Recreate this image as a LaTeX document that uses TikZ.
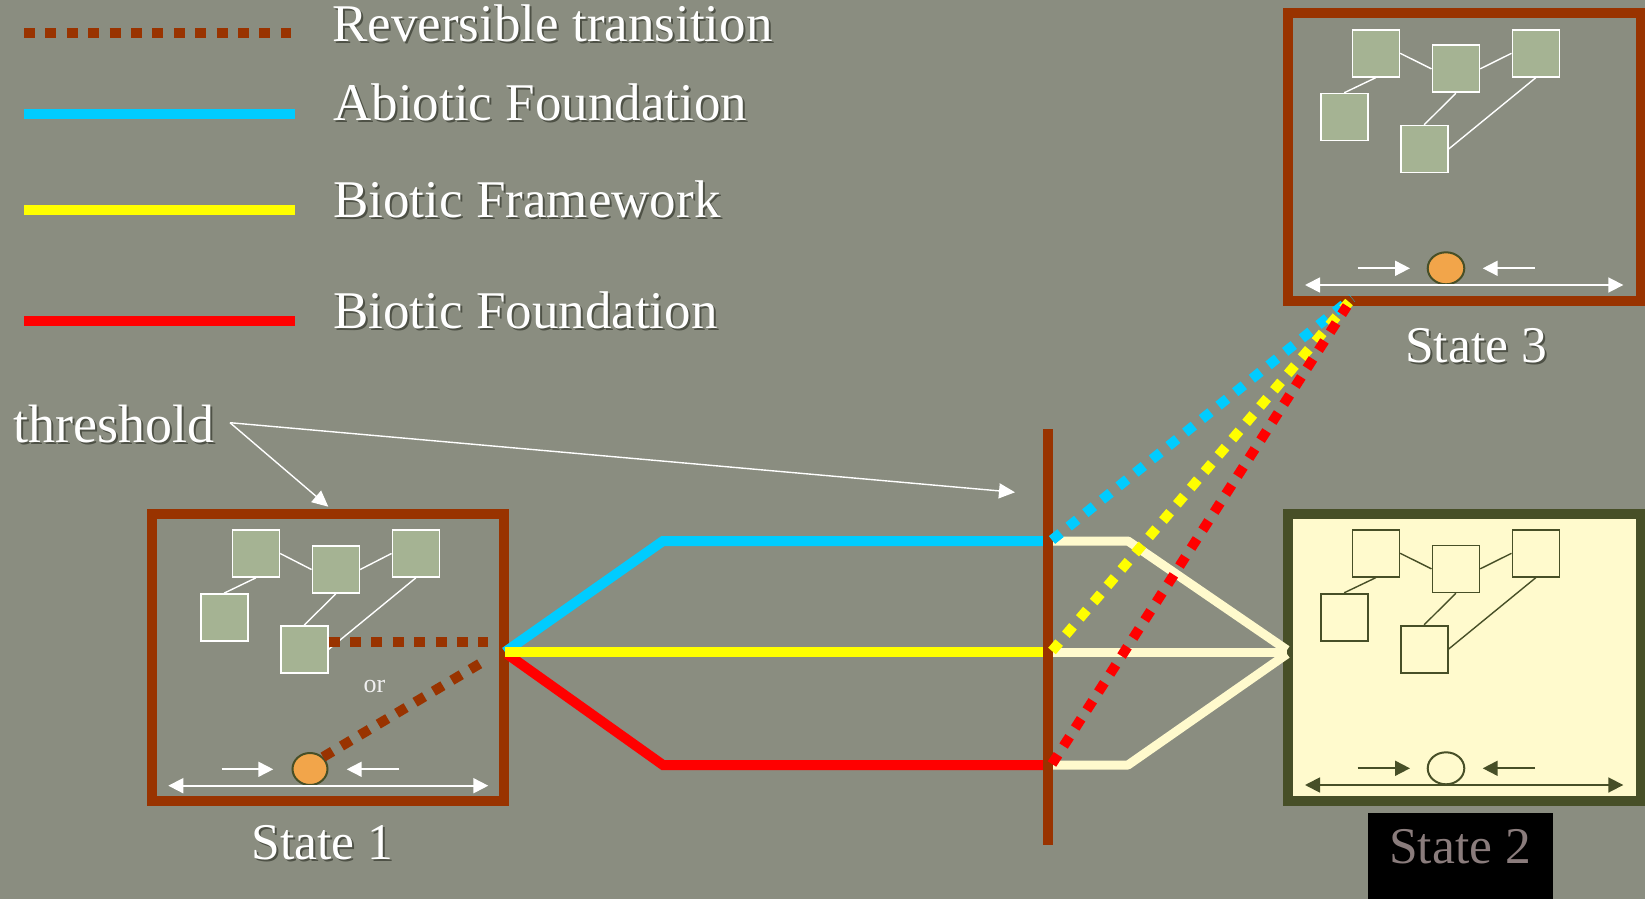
\documentclass[tikz,border=0pt]{standalone}
\usepackage{fontspec}
\setmainfont{Liberation Serif}
\usetikzlibrary{arrows.meta,shapes.geometric}
\definecolor{bg}{HTML}{8A8D80}
\definecolor{brn}{HTML}{993300}
\definecolor{aqua}{HTML}{00CCFF}
\definecolor{yel}{HTML}{FFFF00}
\definecolor{rd}{HTML}{FF0000}
\definecolor{cream}{HTML}{FFFACD}
\definecolor{sage}{HTML}{A5B393}
\definecolor{olive}{HTML}{474F27}
\definecolor{orng}{HTML}{F2A54A}
\definecolor{shd}{HTML}{4E5146}
\definecolor{mauve}{HTML}{8A7C7C}
\newcommand\shtext[1]{\leavevmode\rlap{\kern1pt\raisebox{-1pt}{\textcolor{shd}{#1}}}#1}
\tikzset{
  sq/.style={rectangle, draw=white, line width=0.85pt, fill=sage, minimum size=23.5pt, inner sep=0pt},
  sqtwo/.style={sq, draw=olive, fill=cream},
  link/.style={white, line width=0.7pt},
  linktwo/.style={olive, line width=0.7pt},
  statebox/.style={rectangle, line width=5pt, minimum width=176.25pt, minimum height=143.8pt, inner sep=0pt},
  flow/.style={line width=5pt},
  dots/.style={line width=5pt, dash pattern=on 5.5pt off 5.2pt},
  cr/.style={cream, line width=4.5pt, line join=bevel},
  arr/.style={-{Triangle[length=7.5pt,width=7.5pt]}, line width=0.9pt},
  darr/.style={{Triangle[length=7.5pt,width=7.5pt]}-{Triangle[length=7.5pt,width=7.5pt]}, line width=0.9pt},
  tharr/.style={-{Triangle[length=8pt,width=7.5pt]}, white, line width=0.7pt},
  ball/.style={ellipse, draw=olive, line width=1pt, fill=orng, inner sep=0pt},
  legtext/.style={text=white, inner sep=0pt, anchor=base west, font=\fontsize{26.5pt}{30pt}\selectfont},
  statetext/.style={text=white, inner sep=0pt, anchor=base, font=\fontsize{25.75pt}{30pt}\selectfont}
}
\begin{document}
\begin{tikzpicture}[x=0.5pt, y=-0.5pt]
\useasboundingbox (0,0) rectangle (1645,899);
\fill[bg] (0,0) rectangle (1645,899);

% ---------- legend ----------
\coordinate (lg1a) at (24,33.3);  \coordinate (lg1b) at (291,33.3);
\coordinate (lg2a) at (24,113.7); \coordinate (lg2b) at (295,113.7);
\coordinate (lg3a) at (24,209.7); \coordinate (lg3b) at (295,209.7);
\coordinate (lg4a) at (24,321.3); \coordinate (lg4b) at (295,321.3);
\draw[brn, dots] (lg1a) -- (lg1b);
\draw[aqua, flow] (lg2a) -- (lg2b);
\draw[yel, flow] (lg3a) -- (lg3b);
\draw[rd, flow] (lg4a) -- (lg4b);
\node[legtext] (t1) at (332,41.7) {\shtext{Reversible transition}};
\node[legtext] (t2) at (333,121) {\shtext{Abiotic Foundation}};
\node[legtext] (t3) at (333,217.3) {\shtext{Biotic Framework}};
\node[legtext] (t4) at (333,328.3) {\shtext{Biotic Foundation}};

% ---------- state boxes ----------
\node[statebox, draw=brn] (s1) at (327.75,657.5) {};
\node[statebox, draw=brn] (s3) at (1464.25,157) {};
\node[statebox, draw=olive, fill=cream] (s2) at (1464.25,657.5) {};

% ---------- State 1 contents ----------
\node[sq] (a1) at (255.85,553.5) {};
\node[sq] (b1) at (335.85,569.5) {};
\node[sq] (c1) at (415.85,553.5) {};
\node[sq] (d1) at (224.15,617.5) {};
\node[sq] (e1) at (304.15,649.5) {};
\draw[link] (a1.east) -- (b1.west);
\draw[link] (b1.east) -- (c1.west);
\draw[link] (a1.south) -- (d1.north);
\draw[link] (b1.south) -- (e1.north);
\draw[link] (c1.south) -- (e1.east);
\node[ball, minimum width=17.5pt, minimum height=16pt] (o1) at (310,769) {};
\coordinate (h1a) at (168.3,785.7); \coordinate (h1b) at (488.3,785.7);
\draw[darr, white] (h1a) -- (h1b);
\coordinate (p1a) at (221.7,769.3); \coordinate (p1b) at (273.3,769.3);
\coordinate (q1a) at (399.3,769.3); \coordinate (q1b) at (346.7,769.3);
\draw[arr, white] (p1a) -- (p1b);
\draw[arr, white] (q1a) -- (q1b);
\coordinate (rv1) at (488.3,641.7);
\coordinate (rv2) at (486,660);
\draw[brn, dots] (e1.east |- rv1) -- (rv1);
\draw[brn, dots] (o1.north east) -- (rv2);
\node[text=white!94!black, inner sep=0pt, anchor=base west, font=\fontsize{13pt}{15pt}\selectfont] (or) at (363.3,692.7) {or};

% ---------- State 3 contents ----------
\node[sq] (a3) at (1375.85,53.3) {};
\node[sq] (b3) at (1455.85,68.85) {};
\node[sq] (c3) at (1535.85,53.3) {};
\node[sq] (d3) at (1344.15,117.15) {};
\node[sq] (e3) at (1424.15,149.15) {};
\draw[link] (a3.east) -- (b3.west);
\draw[link] (b3.east) -- (c3.west);
\draw[link] (a3.south) -- (d3.north);
\draw[link] (b3.south) -- (e3.north);
\draw[link] (c3.south) -- (e3.east);
\node[ball, minimum width=18.3pt, minimum height=16pt] (o3) at (1446,268.3) {};
\coordinate (h3a) at (1305,285); \coordinate (h3b) at (1623.3,285);
\draw[darr, white] (h3a) -- (h3b);
\coordinate (p3a) at (1357.7,268.3); \coordinate (p3b) at (1410,268.3);
\coordinate (q3a) at (1535,268.3); \coordinate (q3b) at (1482.7,268.3);
\draw[arr, white] (p3a) -- (p3b);
\draw[arr, white] (q3a) -- (q3b);

% ---------- State 2 contents ----------
\node[sqtwo] (a2) at (1375.85,553.3) {};
\node[sqtwo] (b2) at (1455.85,568.85) {};
\node[sqtwo] (c2) at (1535.85,553.3) {};
\node[sqtwo] (d2) at (1344.15,617.15) {};
\node[sqtwo] (e2) at (1424.15,649.15) {};
\draw[linktwo] (a2.east) -- (b2.west);
\draw[linktwo] (b2.east) -- (c2.west);
\draw[linktwo] (a2.south) -- (d2.north);
\draw[linktwo] (b2.south) -- (e2.north);
\draw[linktwo] (c2.south) -- (e2.east);
\node[ball, fill=cream, minimum width=18.3pt, minimum height=16pt] (o2) at (1446,768.3) {};
\coordinate (h2a) at (1305,785); \coordinate (h2b) at (1623.3,785);
\draw[darr, olive] (h2a) -- (h2b);
\coordinate (p2a) at (1357.7,768.3); \coordinate (p2b) at (1410,768.3);
\coordinate (q2a) at (1535,768.3); \coordinate (q2b) at (1482.7,768.3);
\draw[arr, olive] (p2a) -- (p2b);
\draw[arr, olive] (q2a) -- (q2b);

% ---------- pathways ----------
\coordinate (j) at (505,652);
\coordinate (jr) at (507,654);
\coordinate (bk) at (663,541);  \coordinate (bt) at (1048,541);
\coordinate (yt) at (1048,652);
\coordinate (rk) at (663,765);  \coordinate (rt) at (1048,765);
\draw[aqua, flow] (j) -- (bk) -- (bt);
\draw[rd, flow] (jr) -- (rk) -- (rt);
\draw[yel, flow] (j) -- (yt);

% cream lines into State 2
\coordinate (cb0) at (1053,541); \coordinate (cb1) at (1128,541);
\coordinate (cy0) at (1053,652);
\coordinate (cr0) at (1053,765); \coordinate (cr1) at (1128,765);
\coordinate (m1) at (1287,650); \coordinate (m2) at (1287,652); \coordinate (m3) at (1287,654);
\draw[cr] (cb0) -- (cb1) -- (m1);
\draw[cr] (cy0) -- (m2);
\draw[cr] (cr0) -- (cr1) -- (m3);

% threshold line
\coordinate (th1) at (1048,429);
\coordinate (th2) at (1048,845);
\draw[brn, line width=5pt] (th1) -- (th2);

% dotted lines to State 3
\coordinate (db) at (1052,540);  \coordinate (eb) at (1352,298);
\coordinate (dy) at (1052,651);  \coordinate (ey) at (1349,302);
\coordinate (dr) at (1052,764);  \coordinate (er) at (1347,306);
\draw[aqua, dots] (db) -- (eb);
\draw[yel, dots] (dy) -- (ey);
\draw[rd, dots] (dr) -- (er);

% threshold label
\node[legtext, font=\fontsize{27pt}{30pt}\selectfont] (thr) at (13.3,442.7) {\shtext{threshold}};
\coordinate (ts) at (230,422.7);
\coordinate (tp1) at (328.3,506.7);
\coordinate (tp2) at (1015,492.3);
\draw[tharr] (ts) -- (tp1);
\draw[tharr] (ts) -- (tp2);

% state labels
\node[statetext] (l1) at (322.5,859.3) {\shtext{State 1}};
\node[statetext] (l3) at (1476,362) {\shtext{State 3}};
\fill[black] (1368,813) rectangle (1553,899);
\node[statetext, text=mauve] (l2) at (1460,863) {State 2};
\end{tikzpicture}
\end{document}
